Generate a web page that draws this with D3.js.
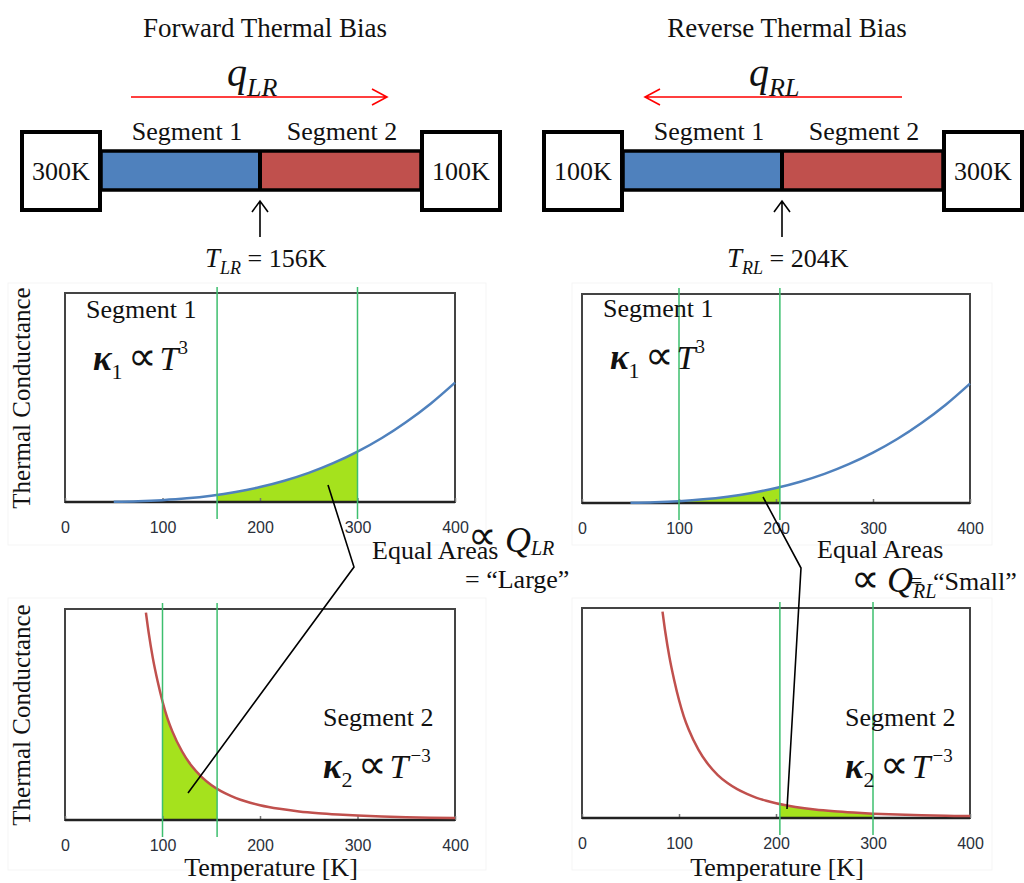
<!DOCTYPE html>
<html>
<head>
<meta charset="utf-8">
<script src="https://cdn.jsdelivr.net/npm/d3@7"></script>
<style>
body { margin: 0; background: #fff; }
svg text { font-family: "Liberation Serif", "Times New Roman", serif; fill: #111; }
.tick text { font-family: "Liberation Sans", Arial, sans-serif; fill: #2a2f3a; }
</style>
</head>
<body>
<script>
// ================== DATA ===========================
const tempTicks = [0, 100, 200, 300, 400];

// segment 1 conductance (arb. units)
const seg1Temps = [50, 75, 100, 125, 150, 175, 200, 225, 250, 275, 300, 325, 350, 375, 400];
const seg1Kappa = [0.13, 0.42, 1.0, 1.95, 3.4, 5.4, 8.0, 11.4, 15.6, 20.8, 27, 34.3, 42.9, 52.7, 64];

// segment 2 conductance (arb. units)
const seg2Temps = [83, 86, 90, 95, 100, 105, 110, 120, 130, 140, 150, 160, 170, 180, 190, 200, 220, 240, 260, 280, 300, 325, 350, 375, 400];
const seg2Kappa = [1.75, 1.57, 1.37, 1.17, 1.0, 0.86, 0.75, 0.58, 0.455, 0.364, 0.296, 0.244, 0.204, 0.171, 0.146, 0.125, 0.094, 0.072, 0.057, 0.046, 0.037, 0.029, 0.023, 0.019, 0.016];

// temperature windows (green lines + shaded area)
const fwdSeg1Range = [156, 300];
const revSeg1Range = [100, 204];
const fwdSeg2Range = [100, 156];
const revSeg2Range = [204, 300];

const biasTitles = ["Forward Thermal Bias", "Reverse Thermal Bias"];
const reservoirLabels = [["300K", "100K"], ["100K", "300K"]];
const junctionLabels = [["LR", " = 156K"], ["RL", " = 204K"]];

const blue = "#4f81bd", red = "#c0504d", green = "#3dbf6e", fillGreen = "#a5e21d";

// ================== LAYOUT ===========================
const svg = d3.select("body").append("svg")
  .attr("width", 1024).attr("height", 883);

function richText(parent, x, y, parts) {
  const t = parent.append("text").attr("x", x).attr("y", y);
  parts.forEach(p => {
    const s = t.append("tspan").text(p.t).style("font-size", p.size + "px");
    if (p.it) s.style("font-style", "italic");
    if (p.bold) s.style("font-weight", "bold");
    if (p.dy) s.attr("dy", p.dy);
    if (p.dx) s.attr("dx", p.dx);
  });
  return t;
}

// ============ thermal bias diagrams ==================
function drawDiagram(ox, i) {
  const g = svg.append("g").attr("transform", `translate(${ox},0)`);
  g.append("text").attr("x", 265).attr("y", 37).attr("text-anchor", "middle")
    .style("font-size", "27px").text(biasTitles[i]);

  // bar
  g.append("rect").attr("x", 101).attr("y", 151).attr("width", 159).attr("height", 39).attr("fill", blue);
  g.append("rect").attr("x", 260).attr("y", 151).attr("width", 161).attr("height", 39).attr("fill", red);
  g.append("rect").attr("x", 101).attr("y", 151).attr("width", 320).attr("height", 39)
    .attr("fill", "none").attr("stroke", "#000").attr("stroke-width", 3.5);
  g.append("line").attr("x1", 260).attr("x2", 260).attr("y1", 151).attr("y2", 190)
    .attr("stroke", "#000").attr("stroke-width", 4);

  // reservoirs
  [[22, reservoirLabels[i][0]], [422, reservoirLabels[i][1]]].forEach(([bx, lab]) => {
    g.append("rect").attr("x", bx).attr("y", 132).attr("width", 78).attr("height", 78)
      .attr("fill", "#fff").attr("stroke", "#000").attr("stroke-width", 4);
    g.append("text").attr("x", bx + 39).attr("y", 180).attr("text-anchor", "middle")
      .style("font-size", "26px").text(lab);
  });

  g.append("text").attr("x", 187).attr("y", 140).attr("text-anchor", "middle")
    .style("font-size", "26px").text("Segment 1");
  g.append("text").attr("x", 342).attr("y", 140).attr("text-anchor", "middle")
    .style("font-size", "26px").text("Segment 2");

  // heat flow arrow
  const a0 = i === 0 ? 131 : 380, a1 = i === 0 ? 387 : 123;
  const s = Math.sign(a1 - a0);
  g.append("path").attr("d", `M${a0},97H${a1}M${a1 - 15 * s},89L${a1},97L${a1 - 15 * s},105`)
    .attr("fill", "none").attr("stroke", "#f00").attr("stroke-width", 1.6);
  richText(g, 227, 86, [
    { t: "q", size: 40, it: true },
    { t: junctionLabels[i][0], size: 26, it: true, dy: 10 }
  ]);

  // junction arrow
  g.append("path").attr("d", "M260,237V201M252,212L260,201L268,212")
    .attr("fill", "none").attr("stroke", "#000").attr("stroke-width", 1.6);
  richText(g, 205, 267, [
    { t: "T", size: 27, it: true },
    { t: junctionLabels[i][0], size: 18, it: true, dy: 7 },
    { t: junctionLabels[i][1], size: 26, dy: -7 }
  ]);
}
drawDiagram(0, 0);
drawDiagram(522, 1);

// ============ conductance plots ======================
const panels = [
  { x0: 65, x1: 455, y0: 293, y1: 502, temps: seg1Temps, kappa: seg1Kappa, ymax: 112, color: blue, range: fwdSeg1Range },
  { x0: 582, x1: 970, y0: 294, y1: 503, temps: seg1Temps, kappa: seg1Kappa, ymax: 112, color: blue, range: revSeg1Range },
  { x0: 65, x1: 455, y0: 609, y1: 820, temps: seg2Temps, kappa: seg2Kappa, ymax: 1.78, color: red, range: fwdSeg2Range },
  { x0: 582, x1: 970, y0: 608, y1: 818, temps: seg2Temps, kappa: seg2Kappa, ymax: 1.78, color: red, range: revSeg2Range }
];

// faint chart-area frames
[[8, 283, 478, 262], [572, 283, 420, 262], [8, 598, 478, 272], [572, 598, 420, 272]].forEach(r => {
  svg.append("rect").attr("x", r[0]).attr("y", r[1]).attr("width", r[2]).attr("height", r[3])
    .attr("fill", "none").attr("stroke", "#f5f5f5");
});

panels.forEach((p, k) => {
  const x = d3.scaleLinear().domain([0, 400]).range([p.x0, p.x1]);
  const y = d3.scaleLinear().domain([0, p.ymax]).range([p.y1, p.y0]);
  const pts = p.temps.map((t, i) => [t, p.kappa[i]]);
  const g = svg.append("g");

  const clipId = "clip" + k;
  g.append("clipPath").attr("id", clipId).append("rect")
    .attr("x", x(p.range[0])).attr("y", p.y0).attr("width", x(p.range[1]) - x(p.range[0])).attr("height", p.y1 - p.y0);

  g.append("path").datum(pts)
    .attr("clip-path", `url(#${clipId})`)
    .attr("fill", fillGreen)
    .attr("d", d3.area().x(d => x(d[0])).y0(y(0)).y1(d => y(d[1])).curve(d3.curveMonotoneX));

  g.append("rect").attr("x", p.x0).attr("y", p.y0).attr("width", p.x1 - p.x0).attr("height", p.y1 - p.y0)
    .attr("fill", "none").attr("stroke", "#444").attr("stroke-width", 2);

  const axis = g.append("g").attr("transform", `translate(0,${p.y1})`)
    .call(d3.axisBottom(x).tickValues(tempTicks).tickSize(-4).tickPadding(20));
  axis.select(".domain").remove();
  axis.selectAll(".tick line").attr("stroke", "#777").attr("stroke-width", 1.5);
  axis.selectAll(".tick text").style("font-size", "16px");
  g.append("line").attr("x1", p.x0).attr("x2", p.x1).attr("y1", p.y1).attr("y2", p.y1)
    .attr("stroke", "#222").attr("stroke-width", 2.5);

  g.append("path").datum(pts)
    .attr("fill", "none").attr("stroke", p.color).attr("stroke-width", 2.5)
    .attr("d", d3.line().x(d => x(d[0])).y(d => y(d[1])).curve(d3.curveMonotoneX));

  g.selectAll(".mark").data(p.range).enter().append("line")
    .attr("x1", d => x(d)).attr("x2", d => x(d))
    .attr("y1", p.y0 - 6).attr("y2", p.y1 + 17)
    .attr("stroke", green).attr("stroke-width", 1.5);
});

// y axis titles
[398, 715].forEach(cy => {
  svg.append("text").attr("transform", `translate(30,${cy}) rotate(-90)`)
    .attr("text-anchor", "middle").style("font-size", "25px").text("Thermal Conductance");
});
// x axis titles
[271, 777].forEach(cx => {
  svg.append("text").attr("x", cx).attr("y", 876).attr("text-anchor", "middle")
    .style("font-size", "26px").text("Temperature [K]");
});

// panel labels
[[86, 318], [603, 317]].forEach(([lx, ly]) => {
  svg.append("text").attr("x", lx).attr("y", ly).style("font-size", "26px").text("Segment 1");
  richText(svg, lx + 7, ly + 52, [
    { t: "κ", size: 35, it: true, bold: true },
    { t: "1", size: 22, dy: 9 },
    { t: "∝", size: 40, dx: 5, dy: -9 },
    { t: "T", size: 34, it: true, dx: 3 },
    { t: "3", size: 19, dy: -16 }
  ]);
});
[[323, 726], [845, 726]].forEach(([lx, ly]) => {
  svg.append("text").attr("x", lx).attr("y", ly).style("font-size", "26px").text("Segment 2");
  richText(svg, lx, ly + 52, [
    { t: "κ", size: 35, it: true, bold: true },
    { t: "2", size: 22, dy: 9 },
    { t: "∝", size: 40, dx: 5, dy: -9 },
    { t: "T", size: 34, it: true, dx: 3 },
    { t: "−3", size: 19, dx: 2, dy: -16 }
  ]);
});

// ============ equal-area annotations =================
svg.append("path").attr("d", "M328,485L354,567L188,793")
  .attr("fill", "none").attr("stroke", "#000").attr("stroke-width", 1.6);
svg.append("path").attr("d", "M763,497L801,568L787,809")
  .attr("fill", "none").attr("stroke", "#000").attr("stroke-width", 1.6);

svg.append("text").attr("x", 372).attr("y", 559).style("font-size", "26px").text("Equal Areas");
svg.append("text").attr("x", 468).attr("y", 549).style("font-size", "40px").text("∝");
richText(svg, 505, 552, [
  { t: "Q", size: 36, it: true },
  { t: "LR", size: 20, it: true, dy: 3 }
]);
svg.append("text").attr("x", 465).attr("y", 588).style("font-size", "26px").text("= “Large”");

svg.append("text").attr("x", 817).attr("y", 558).style("font-size", "26px").text("Equal Areas");
svg.append("text").attr("x", 851).attr("y", 592).style("font-size", "40px").text("∝");
richText(svg, 887, 592, [
  { t: "Q", size: 36, it: true },
  { t: "RL", size: 20, it: true, dy: 6 }
]);
svg.append("text").attr("x", 910).attr("y", 588).style("font-size", "22px").text("=");
svg.append("text").attr("x", 933).attr("y", 590).style("font-size", "26px").text("“Small”");
</script>
</body>
</html>
